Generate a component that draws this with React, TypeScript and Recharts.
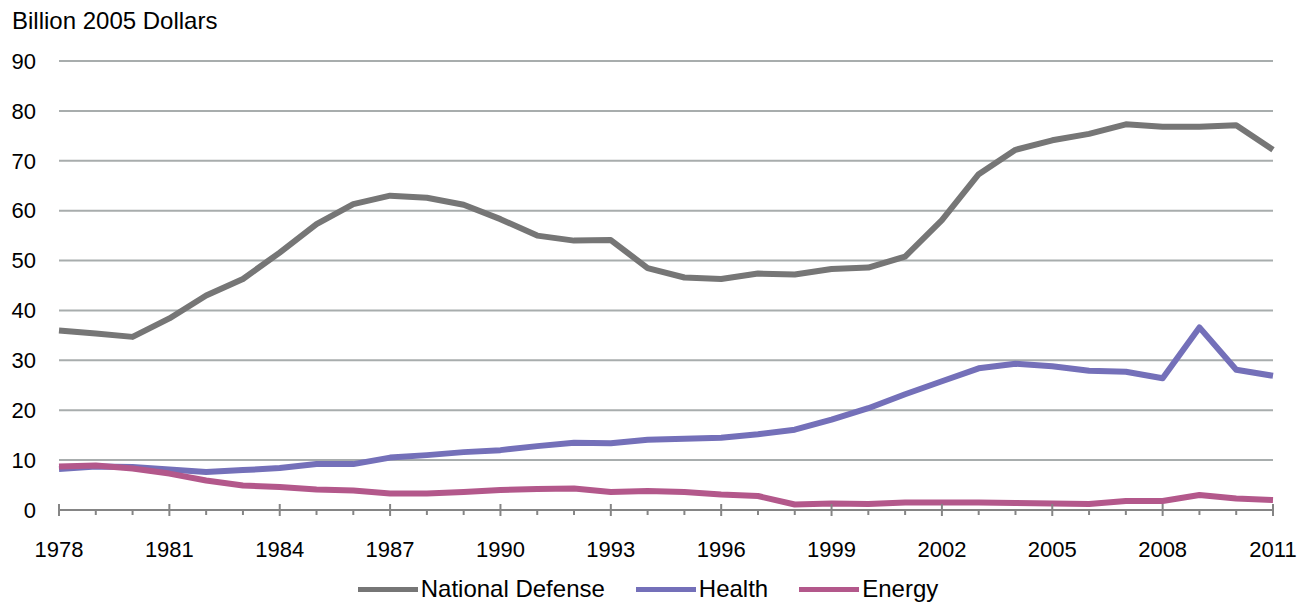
import React from 'react';
import { LineChart, Line, XAxis, YAxis, CartesianGrid, Legend } from 'recharts';

const years = [
  1978, 1979, 1980, 1981, 1982, 1983, 1984, 1985, 1986, 1987, 1988, 1989,
  1990, 1991, 1992, 1993, 1994, 1995, 1996, 1997, 1998, 1999, 2000, 2001,
  2002, 2003, 2004, 2005, 2006, 2007, 2008, 2009, 2010, 2011,
];

const nationalDefense = [
  36.0, 35.4, 34.7, 38.4, 43.0, 46.3, 51.6, 57.3, 61.3, 63.0, 62.6, 61.2,
  58.3, 55.0, 54.0, 54.1, 48.5, 46.6, 46.3, 47.4, 47.2, 48.3, 48.6, 50.8,
  58.1, 67.3, 72.2, 74.1, 75.4, 77.3, 76.8, 76.8, 77.1, 72.2,
];

const health = [
  8.2, 8.7, 8.6, 8.1, 7.6, 8.0, 8.4, 9.2, 9.2, 10.5, 11.0, 11.6,
  12.0, 12.8, 13.5, 13.4, 14.1, 14.3, 14.5, 15.2, 16.1, 18.1, 20.4, 23.2,
  25.8, 28.4, 29.3, 28.8, 27.9, 27.7, 26.4, 36.6, 28.1, 26.9,
];

const energy = [
  8.7, 8.9, 8.3, 7.3, 5.9, 4.9, 4.6, 4.1, 3.9, 3.3, 3.3, 3.6,
  4.0, 4.2, 4.3, 3.6, 3.8, 3.6, 3.1, 2.8, 1.1, 1.3, 1.2, 1.5,
  1.5, 1.5, 1.4, 1.3, 1.2, 1.8, 1.8, 3.0, 2.3, 2.0,
];

const yTicks = [0, 10, 20, 30, 40, 50, 60, 70, 80, 90];

const seriesNames = ['National Defense', 'Health', 'Energy'];
const seriesColors = ['#767676', '#7470b9', '#b3588b'];

const data = years.map((y, i) => ({
  year: y,
  defense: nationalDefense[i],
  health: health[i],
  energy: energy[i],
}));

const FONT = '"Liberation Sans", Arial, sans-serif';

const XTick = (props: any) => {
  const { x, y, payload } = props;
  const v = payload.value as number;
  const major = (v - years[0]) % 3 === 0;
  return (
    <g>
      <line
        x1={x}
        x2={x}
        y1={major ? y - 6 : y}
        y2={major ? y + 6 : y + 5}
        stroke="#858585"
        strokeWidth={2}
      />
      {major && (
        <text
          x={x}
          y={y + 39}
          textAnchor="middle"
          dominantBaseline="central"
          fontSize={22}
          fill="#000"
          fontFamily={FONT}
        >
          {v}
        </text>
      )}
    </g>
  );
};

const renderLegend = (props: any) => {
  const payload = [...(props.payload || [])].sort(
    (a: any, b: any) => seriesNames.indexOf(a.value) - seriesNames.indexOf(b.value)
  );
  return (
    <div
      style={{
        display: 'flex',
        justifyContent: 'center',
        alignItems: 'center',
        fontFamily: FONT,
        fontSize: 24,
        color: '#000',
        lineHeight: '28px',
      }}
    >
      {payload.map((p: any, i: number) => (
        <div
          key={i}
          style={{
            display: 'flex',
            alignItems: 'center',
            marginRight: i < payload.length - 1 ? 31 : 0,
          }}
        >
          <span
            style={{
              display: 'inline-block',
              width: 60,
              height: 5,
              background: p.color,
              marginRight: 3,
            }}
          />
          <span>{p.value}</span>
        </div>
      ))}
    </div>
  );
};

export default function App() {
  return (
    <div
      style={{
        position: 'absolute',
        left: 0,
        top: 0,
        width: 1310,
        height: 602,
        background: '#fff',
        fontFamily: FONT,
      }}
    >
      <div
        style={{
          position: 'absolute',
          left: 12,
          top: 9,
          fontSize: 24,
          lineHeight: '24px',
          color: '#000',
          whiteSpace: 'nowrap',
          zIndex: 2,
        }}
      >
        Billion 2005 Dollars
      </div>
      <LineChart
        width={1310}
        height={602}
        data={data}
        margin={{ top: 61, right: 37, bottom: 0, left: 0 }}
        style={{ fontFamily: FONT }}
      >
        <CartesianGrid
          vertical={false}
          stroke="#a8adad"
          strokeWidth={2}
          horizontalValues={yTicks}
        />
        <XAxis
          dataKey="year"
          type="number"
          domain={[years[0], years[years.length - 1]]}
          ticks={years}
          interval={0}
          height={92}
          tickSize={0}
          tickMargin={0}
          tickLine={false}
          axisLine={{ stroke: '#858585', strokeWidth: 2 }}
          tick={<XTick />}
          allowDecimals={false}
        />
        <YAxis
          type="number"
          domain={[0, 90]}
          ticks={yTicks}
          interval={0}
          width={59}
          tickSize={0}
          tickMargin={23}
          tickLine={false}
          axisLine={false}
          tick={{ fontSize: 22, fill: '#000', fontFamily: FONT }}
        />
        <Legend
          layout="horizontal"
          verticalAlign="middle"
          align="center"
          itemSorter={null}
          wrapperStyle={{ top: 575, left: 0, width: 1296 }}
          content={renderLegend}
        />
        <Line
          type="linear"
          dataKey="defense"
          name={seriesNames[0]}
          stroke={seriesColors[0]}
          strokeWidth={6}
          dot={false}
          activeDot={false}
          strokeLinejoin="round"
          isAnimationActive={false}
        />
        <Line
          type="linear"
          dataKey="health"
          name={seriesNames[1]}
          stroke={seriesColors[1]}
          strokeWidth={6}
          dot={false}
          activeDot={false}
          strokeLinejoin="round"
          isAnimationActive={false}
        />
        <Line
          type="linear"
          dataKey="energy"
          name={seriesNames[2]}
          stroke={seriesColors[2]}
          strokeWidth={6}
          dot={false}
          activeDot={false}
          strokeLinejoin="round"
          isAnimationActive={false}
        />
      </LineChart>
    </div>
  );
}
